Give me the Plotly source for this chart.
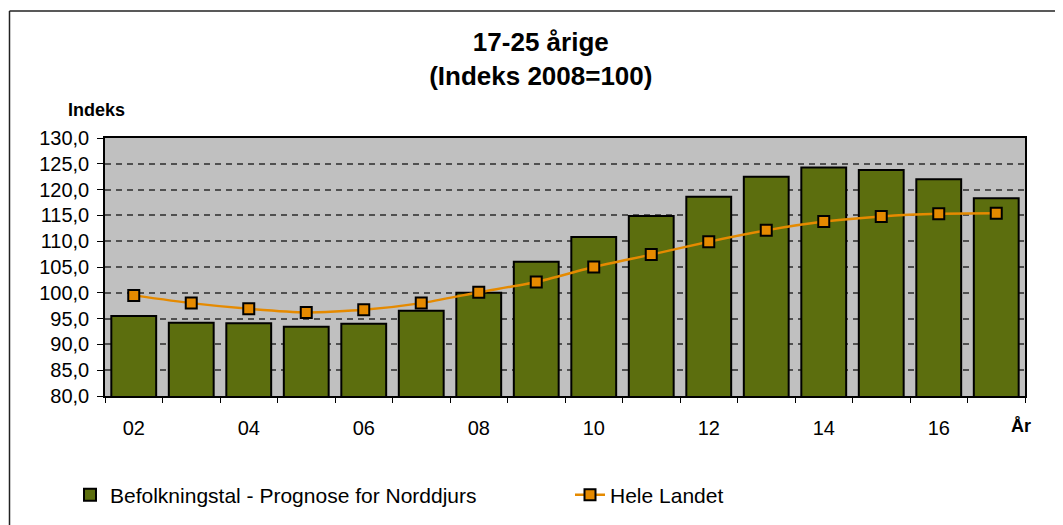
import plotly.graph_objects as go

years = list(range(2002, 2018))
norddjurs = [95.5, 94.2, 94.1, 93.4, 94.0, 96.5, 100.0, 106.0, 110.8, 114.9, 118.6, 122.5, 124.3, 123.8, 122.0, 118.3]
hele_landet = [99.5, 98.0, 96.9, 96.2, 96.7, 98.0, 100.1, 102.1, 105.0, 107.4, 109.9, 112.1, 113.8, 114.8, 115.3, 115.4]
x_tickvals = [2002, 2004, 2006, 2008, 2010, 2012, 2014, 2016]
x_ticktext = ["02", "04", "06", "08", "10", "12", "14", "16"]

FONT = "Liberation Sans, Arial, sans-serif"
OFF = 8  # page body margin offset

fig = go.Figure()
fig.add_trace(go.Bar(
    x=years, y=norddjurs,
    name="Befolkningstal - Prognose for Norddjurs",
    marker=dict(color="#5C6E0E", line=dict(color="black", width=2)),
    legend="legend",
))
fig.add_trace(go.Scatter(
    x=years, y=hele_landet, name="Hele Landet",
    mode="lines+markers",
    line=dict(color="#E58A00", width=2.5, shape="spline", smoothing=0.6),
    marker=dict(symbol="square", size=11, color="#E58A00",
                line=dict(color="black", width=2)),
    legend="legend2",
))

leg_common = dict(
    orientation="h", xanchor="left", yanchor="middle",
    y=(396 - 495) / 258,
    font=dict(family=FONT, size=21, color="black"),
    bgcolor="rgba(0,0,0,0)",
)

fig.update_layout(
    width=1063, height=525,
    margin=dict(l=105 - OFF, r=38 + OFF, t=138 - OFF, b=129 + OFF, autoexpand=False),
    paper_bgcolor="white",
    plot_bgcolor="#C0C0C0",
    separators=",.",
    bargap=0.22,
    font=dict(family=FONT, color="black", size=20),
    title=dict(
        text="<b>17-25 årige<br>(Indeks 2008=100)</b>",
        x=(540.8 - OFF) / 1063, xanchor="center",
        y=1 - 42.7 / 525, yanchor="top",
        font=dict(family=FONT, size=26, color="black"),
    ),
    showlegend=True,
    legend=dict(x=(70 - 105) / 920, **leg_common),
    legend2=dict(x=(570 - 105) / 920, **leg_common),
    xaxis=dict(
        range=[2001.5, 2017.5],
        tickmode="array", tickvals=x_tickvals, ticktext=x_ticktext,
        ticks="outside", ticklen=5, tickcolor="rgba(0,0,0,0)",
        ticklabelstandoff=8,
        minor=dict(tickmode="linear", tick0=2001.5, dtick=1, ticks="outside",
                   ticklen=5, tickcolor="black", tickwidth=1, showgrid=False),
        showgrid=False,
        showline=True, linecolor="black", linewidth=1.5, mirror=True,
        tickfont=dict(family=FONT, size=20, color="black"),
        zeroline=False,
    ),
    yaxis=dict(
        range=[80, 130], dtick=5, tick0=80,
        tickformat=".1f",
        ticks="outside", ticklen=6, tickcolor="black", tickwidth=1,
        ticklabelstandoff=4,
        showgrid=True, gridcolor="#505050", gridwidth=1.5, griddash="6px,5px",
        showline=True, linecolor="black", linewidth=1.5, mirror=True,
        tickfont=dict(family=FONT, size=20, color="black"),
        zeroline=False,
    ),
)

fig.add_annotation(
    text="<b>Indeks</b>", xref="paper", yref="paper",
    x=(96.5 - 105) / 920, y=(396 - 110) / 258,
    xanchor="center", yanchor="middle", showarrow=False,
    font=dict(family=FONT, size=18, color="black"),
)
fig.add_annotation(
    text="<b>År</b>", xref="paper", yref="paper",
    x=(1020.5 - 105) / 920, y=(396 - 426) / 258,
    xanchor="center", yanchor="middle", showarrow=False,
    font=dict(family=FONT, size=18, color="black"),
)

# outer chart frame
FX = 9.5
fig.add_shape(type="line", xref="paper", yref="paper",
              x0=(FX - 105) / 920, x1=(FX - 105) / 920,
              y0=(396 - 11) / 258, y1=(396 - 540) / 258,
              line=dict(color="#222222", width=1.5))
fig.add_shape(type="line", xref="paper", yref="paper",
              x0=(FX - 105) / 920, x1=(1080 - 105) / 920,
              y0=(396 - 11) / 258, y1=(396 - 11) / 258,
              line=dict(color="#222222", width=1.5))

fig.write_html("out.html")
